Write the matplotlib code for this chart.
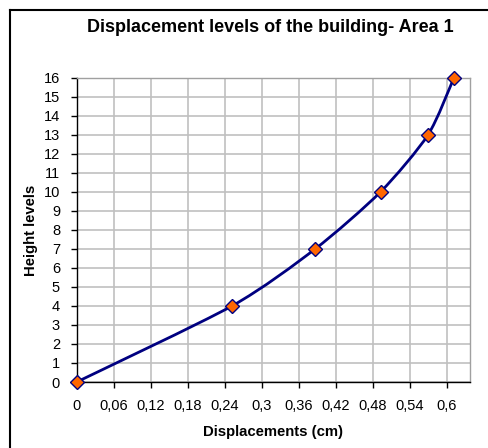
import matplotlib
matplotlib.use("Agg")
import matplotlib.pyplot as plt
from matplotlib.path import Path
from matplotlib.patches import PathPatch
from matplotlib.ticker import FixedLocator, FuncFormatter
import numpy as np

# Data
displacements = [0.0, 0.252, 0.387, 0.493, 0.570, 0.612]
height_levels = [0, 4, 7, 10, 13, 16]
x_ticks = [0, 0.06, 0.12, 0.18, 0.24, 0.30, 0.36, 0.42, 0.48, 0.54, 0.60]
y_ticks = list(range(0, 17))

title = "Displacement levels of the building- Area 1"
xlabel = "Displacements (cm)"
ylabel = "Height levels"

plt.rcParams['font.family'] = ['Liberation Sans', 'DejaVu Sans']

fig = plt.figure(figsize=(4.88, 4.48), dpi=100)
ax = fig.add_axes([76.7/488, 1-382/448, (470-76.7)/488, (382-77.7)/448])

navy = '#000080'
orange = '#FF6600'

# Smoothed line (cardinal spline as cubic Bezier, like Excel smoothing)
P = np.column_stack([displacements, height_levels])
verts = [tuple(P[0])]
codes = [Path.MOVETO]
n = len(P)
k = 1.0 / 8.0
for i in range(n - 1):
    p0 = P[i - 1] if i > 0 else P[i]
    p1 = P[i]
    p2 = P[i + 1]
    p3 = P[i + 2] if i + 2 < n else P[i + 1]
    c1 = p1 + (p2 - p0) * k
    c2 = p2 - (p3 - p1) * k
    verts += [tuple(c1), tuple(c2), tuple(p2)]
    codes += [Path.CURVE4] * 3
ax.add_patch(PathPatch(Path(verts, codes), facecolor='none', edgecolor=navy,
                       lw=2.0, zorder=3, capstyle='round', joinstyle='round'))

ax.plot(displacements, height_levels, linestyle='none', marker='D', markersize=7,
        markerfacecolor=orange, markeredgecolor=navy, markeredgewidth=1.0,
        zorder=4, clip_on=False)

ax.set_xlim(0, 0.638)
ax.set_ylim(0, 16)
ax.xaxis.set_major_locator(FixedLocator(x_ticks))
ax.yaxis.set_major_locator(FixedLocator(y_ticks))

def fmt(v, pos):
    s = ('%.2f' % v).rstrip('0').rstrip('.')
    return s.replace('.', ',')

ax.xaxis.set_major_formatter(FuncFormatter(fmt))

ax.grid(True, color='#c0c0c0', lw=1.2, zorder=0)
ax.set_axisbelow(True)
for s in ['top', 'right']:
    ax.spines[s].set_color('#a0a0a0')
    ax.spines[s].set_linewidth(1.0)
for s in ['left', 'bottom']:
    ax.spines[s].set_color('#000000')
    ax.spines[s].set_linewidth(1.0)

ax.tick_params(axis='both', direction='out', length=4, width=1.0, color='black',
               labelsize=10.5, labelcolor='black')
ax.tick_params(axis='x', pad=8)
ax.tick_params(axis='y', pad=8)

fig.text(270/488, 1-27/448, title, ha='center', va='center', fontsize=13,
         fontweight='bold')
fig.text(273/488, 1-432/448, xlabel, ha='center', va='center', fontsize=10.7,
         fontweight='bold')
fig.text(31/488, 1-230/448, ylabel, ha='center', va='center', fontsize=10.7,
         fontweight='bold', rotation=90)

# Outer chart border (cropped: only top and left visible)
fig.add_artist(plt.Line2D([10/488, 10/488], [0, 1-10/448], transform=fig.transFigure,
                          color='black', lw=1.5))
fig.add_artist(plt.Line2D([10/488, 1], [1-10/448, 1-10/448], transform=fig.transFigure,
                          color='black', lw=1.5))

fig.savefig('out.png', dpi=100)
